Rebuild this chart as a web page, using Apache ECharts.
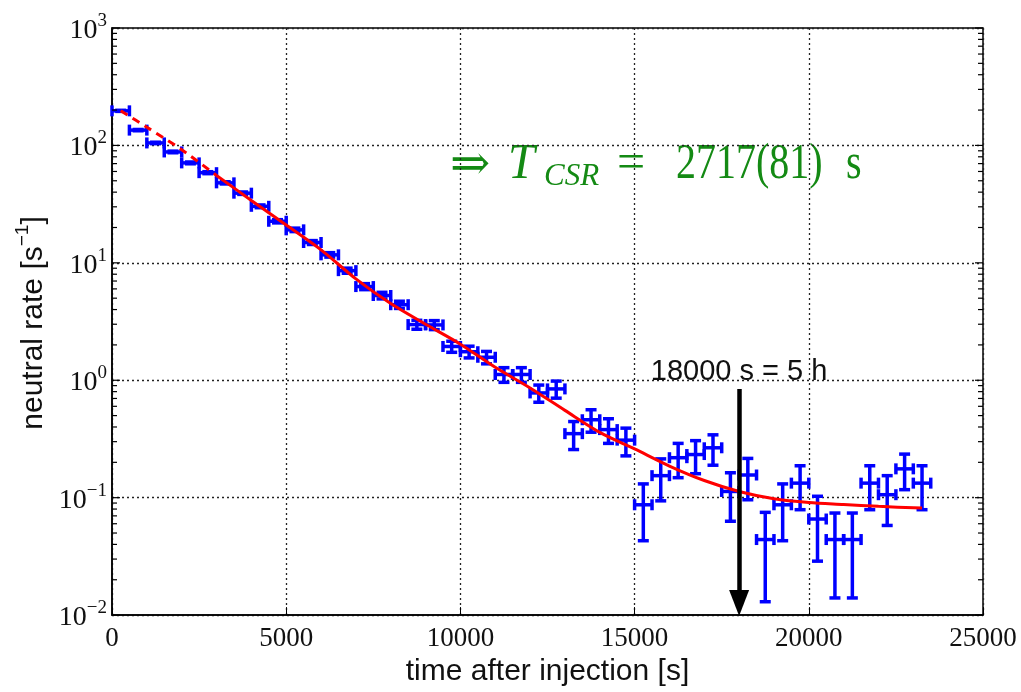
<!DOCTYPE html>
<html>
<head>
<meta charset="utf-8">
<script src="https://cdn.jsdelivr.net/npm/echarts@6/dist/echarts.min.js"></script>
<style>
    html, body { margin: 0; padding: 0; background: #fff; }
    #chart { width: 1021px; height: 692px; }
</style>
</head>
<body>
<div id="chart"></div>
<script>
// bin centres [s], each bin 500 s wide
const timeBins = [250, 750, 1250, 1750, 2250, 2750, 3250, 3750, 4250, 4750,
    5250, 5750, 6250, 6750, 7250, 7750, 8250, 8750, 9250, 9750,
    10250, 10750, 11250, 11750, 12250, 12750, 13250, 13750, 14250, 14750,
    15250, 15750, 16250, 16750, 17250, 17750, 18250, 18750, 19250, 19750,
    20250, 20750, 21250, 21750, 22250, 22750, 23250];
const binHalf = 250;

// neutral rate [1/s]
const rates = [197, 135, 105, 88, 71, 58.6, 48, 39.2, 30.3, 22.6,
    19.1, 14.9, 11.7, 8.58, 6.28, 5.27, 4.40, 2.98, 2.96, 1.94,
    1.75, 1.57, 1.12, 1.12, 0.78, 0.844, 0.351, 0.461, 0.380, 0.309,
    0.087, 0.154, 0.219, 0.233, 0.266, 0.113, 0.156, 0.044, 0.087, 0.133,
    0.0658, 0.044, 0.044, 0.133, 0.106, 0.176, 0.133];
const rateErr = [2.1, 1.7, 1.5, 1.4, 1.25, 1.14, 1.03, 0.93, 0.82, 0.71,
    0.65, 0.57, 0.51, 0.43, 0.37, 0.34, 0.31, 0.26, 0.26, 0.21,
    0.2, 0.19, 0.16, 0.16, 0.13, 0.14, 0.094, 0.1, 0.09, 0.082,
    0.044, 0.06, 0.071, 0.073, 0.077, 0.05, 0.06, 0.031, 0.044, 0.054,
    0.037, 0.03, 0.03, 0.054, 0.048, 0.059, 0.054];

// fit curve (dashed part outside the fit range, solid inside)
const fitDashT = [250, 1000, 2000, 3000];
const fitDashY = [197, 143, 92, 55.5];
const fitT = [3000, 4000, 5000, 6000, 7000, 8000, 9000, 10000, 11000, 12000,
    13000, 14000, 15000, 16000, 17000, 18000, 19000, 20000, 21000, 22000, 23250];
const fitY = [55.5, 34, 21, 12.9, 7.3, 4.5, 3.0, 2.03, 1.29, 0.86,
    0.554, 0.36, 0.26, 0.186, 0.14, 0.113, 0.098, 0.091, 0.0876, 0.0844, 0.0815];

// axes
const xMin = 0, xMax = 25000, xStep = 5000;
const yMin = 0.01, yMax = 1000;
const yMajor = [0.01, 0.1, 1, 10, 100, 1000];

// marker: 5 h after injection
const markT = 18000;
const markTop = 0.844, markEnd = 0.0127;

const serif = 'Liberation Serif';
const sans = 'Liberation Sans';
const green = '#148a14';

// minor ticks of the log axis (2..9 per decade)
const yMinor = [];
yMajor.slice(0, -1).forEach(d => {
    for (let k = 2; k <= 9; k++) yMinor.push(+(d * k).toPrecision(3));
});

const chart = echarts.init(document.getElementById('chart'));

function supText(e) {
    return e < 0 ? '\u2212' + (-e) : String(e);
}

// green annotation, one piece of text per glyph group
function greenText(x, y, text, font, scaleY) {
    return {
        type: 'text', x: x, y: y, scaleY: scaleY,
        style: { text: text, font: font, fill: green, verticalAlign: 'middle' }
    };
}

const option = {
    animation: false,
    backgroundColor: '#fff',
    grid: {
        left: 112, right: 38, top: 28, bottom: 73,
        show: true, borderColor: '#000', borderWidth: 1.5
    },
    xAxis: {
        type: 'value',
        min: xMin, max: xMax, interval: xStep,
        name: 'time after injection [s]',
        nameLocation: 'middle',
        nameGap: 40,
        nameTextStyle: { fontFamily: sans, fontSize: 30, color: '#111' },
        axisLine: { lineStyle: { color: '#000', width: 1.5 } },
        axisTick: { inside: true, length: 8, lineStyle: { color: '#000' } },
        axisLabel: {
            fontFamily: serif, fontSize: 27, color: '#111', margin: 10,
            formatter: v => String(v)
        },
        splitLine: { lineStyle: { color: '#222', type: [2, 3], width: 1.3 } }
    },
    yAxis: {
        type: 'log',
        logBase: 10,
        min: yMin, max: yMax,
        axisLine: { lineStyle: { color: '#000', width: 1.5 } },
        axisTick: { show: false },
        minorTick: { show: false },
        axisLabel: {
            margin: 5,
            formatter: function (v) {
                const e = Math.round(Math.log10(v));
                return '{b|10}{s|' + supText(e) + '}';
            },
            rich: {
                b: { fontFamily: serif, fontSize: 28, color: '#111', padding: [5, 0, 0, 0] },
                s: { fontFamily: serif, fontSize: 19, color: '#111', verticalAlign: 'top' }
            }
        },
        splitLine: { lineStyle: { color: '#222', type: [2, 3], width: 1.3 } }
    },
    graphic: [
        {
            type: 'text', x: 31, y: 323, rotation: Math.PI / 2,
            style: {
                text: '{a|neutral rate [s}{b|\u22121}{a|]}',
                align: 'center', verticalAlign: 'middle',
                rich: {
                    a: { fontFamily: sans, fontSize: 30, fill: '#111', padding: [5, 0, 0, 0] },
                    b: { fontFamily: sans, fontSize: 19, fill: '#111', verticalAlign: 'top' }
                }
            }
        },
        greenText(450, 167, '\u21D2', '48px "DejaVu Serif"', 1),
        greenText(508, 165, 'T', 'italic 48px "Liberation Serif"', 1.04),
        greenText(544, 177, 'CSR', 'italic 31px "Liberation Serif"', 1),
        greenText(617, 165, '=', '50px "Liberation Serif"', 1),
        greenText(676, 165, '2717(81)', '40px "Liberation Serif"', 1.25),
        greenText(846, 165, 's', '40px "Liberation Serif"', 1.25)
    ],
    series: [
        {
            // data points with x and y error bars
            type: 'custom',
            z: 2,
            data: timeBins.map((t, i) => [t, rates[i], rateErr[i]]),
            encode: { x: 0, y: 1 },
            renderItem: function (params, api) {
                const t = api.value(0), r = api.value(1), e = api.value(2);
                const l = api.coord([t - binHalf, r]);
                const rt = api.coord([t + binHalf, r]);
                const top = api.coord([t, r + e]);
                const bot = api.coord([t, r - e]);
                const st = { stroke: '#0000ff', lineWidth: 3.5 };
                const cap = 5.5;
                const line = (x1, y1, x2, y2) => ({
                    type: 'line', shape: { x1, y1, x2, y2 }, style: st
                });
                return {
                    type: 'group',
                    children: [
                        line(l[0], l[1], rt[0], rt[1]),
                        line(top[0], top[1], bot[0], bot[1]),
                        line(l[0], l[1] - cap, l[0], l[1] + cap),
                        line(rt[0], rt[1] - cap, rt[0], rt[1] + cap),
                        line(top[0] - cap, top[1], top[0] + cap, top[1]),
                        line(bot[0] - cap, bot[1], bot[0] + cap, bot[1])
                    ]
                };
            }
        },
        {
            type: 'line',
            z: 3,
            data: fitDashT.map((t, i) => [t, fitDashY[i]]),
            showSymbol: false,
            smooth: 0.3,
            lineStyle: { color: '#ff0000', width: 3, type: [8, 6] }
        },
        {
            type: 'line',
            z: 3,
            data: fitT.map((t, i) => [t, fitY[i]]),
            showSymbol: false,
            smooth: 0.3,
            lineStyle: { color: '#ff0000', width: 3 },
            markLine: {
                silent: true,
                symbol: ['none', 'triangle'],
                symbolSize: [20, 26],
                lineStyle: { color: '#000', width: 4.5, type: 'solid' },
                label: {
                    show: true,
                    position: 'start',
                    distance: 2,
                    formatter: '18000 s = 5 h',
                    fontFamily: sans,
                    fontSize: 29,
                    color: '#111'
                },
                data: [[{ coord: [markT, markTop] }, { coord: [markT, markEnd] }]]
            }
        },
        {
            // tick marks of the log axis on both sides of the frame
            type: 'custom',
            z: 4,
            silent: true,
            data: yMajor.map(v => [xMin, v, 8]).concat(yMinor.map(v => [xMin, v, 5])),
            encode: { x: 0, y: 1 },
            renderItem: function (params, api) {
                const v = api.value(1), len = api.value(2);
                const a = api.coord([xMin, v]);
                const b = api.coord([xMax, v]);
                const st = { stroke: '#000', lineWidth: 1.2 };
                return {
                    type: 'group',
                    children: [
                        { type: 'line', shape: { x1: a[0], y1: a[1], x2: a[0] + len, y2: a[1] }, style: st },
                        { type: 'line', shape: { x1: b[0] - len, y1: b[1], x2: b[0], y2: b[1] }, style: st }
                    ]
                };
            }
        }
    ]
};

chart.setOption(option);
</script>
</body>
</html>
